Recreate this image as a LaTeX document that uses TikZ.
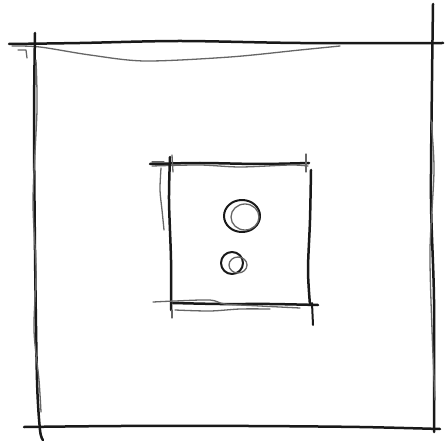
\documentclass[tikz,border=0pt]{standalone}
\begin{document}
\begin{tikzpicture}[x=1pt,y=-1pt,
  ink/.style={draw=black!90, line width=2.5pt, line cap=round, line join=round},
  faint/.style={draw=black!60, line width=1.3pt, line cap=round, line join=round},
  mid/.style={draw=black!90, line width=2pt, line cap=round, line join=round}]
\useasboundingbox[fill=white] (0,0) rectangle (445,446);
% outer square
\draw[ink] plot[smooth] coordinates {(9,44) (80,43) (180,41) (300,43) (443,43)};
\draw[faint] plot[smooth] coordinates {(12,46) (40,47) (90,55) (145,61) (230,57) (300,50) (340,46)};
\draw[faint] (18,50) -- (26,50) -- (27,58);
\draw[ink] plot[smooth] coordinates {(35,33) (34,120) (35,250) (37,380) (40,430) (43,440)};
\draw[faint] plot[smooth] coordinates {(36,60) (37,110) (33,200) (36,270) (34,330) (39,380) (41,412)};
\draw[ink] plot[smooth] coordinates {(433,4) (432,80) (431,200) (434,300) (434,432)};
\draw[faint] plot[smooth] coordinates {(431,120) (434,170) (430,250) (432,330) (435,400)};
\draw[ink] plot[smooth] coordinates {(24,427) (120,426) (250,426) (360,427) (440,429)};
% inner square
\draw[ink] plot[smooth] coordinates {(150,164) (200,163) (260,164) (309,163)};
\draw[faint] plot[smooth] coordinates {(152,166) (200,165) (240,167) (290,165) (308,166)};
\draw[faint] (152,162) -- (164,162);
\draw[ink] plot[smooth] coordinates {(170,157) (169,200) (171,260) (171,310)};
\draw[faint] (172,155) -- (173,172);
\draw[faint] (172,310) -- (172,318);
\draw[faint] plot[smooth] coordinates {(161,168) (160,190) (162,210) (164,230)};
\draw[ink] plot[smooth] coordinates {(311,170) (310,220) (308,270) (310,305)};
\draw[mid] (312,303) -- (313,325);
\draw[faint] (306,154) -- (306,172);
\draw[ink] plot[smooth] coordinates {(173,303) (220,304) (270,304) (318,305)};
\draw[faint] plot[smooth] coordinates {(153,302) (175,301) (210,300) (225,304) (260,306) (300,308)};
\draw[faint] plot[smooth] coordinates {(175,310) (210,311) (240,309) (270,309)};
% circles
\draw[mid] (242,216) ellipse [x radius=18, y radius=16];
\draw[faint] (245,217) ellipse [x radius=14, y radius=13];
\draw[mid] (232,263) ellipse [x radius=11, y radius=11];
\draw[faint] (238,265) ellipse [x radius=9, y radius=8];
\end{tikzpicture}
\end{document}
